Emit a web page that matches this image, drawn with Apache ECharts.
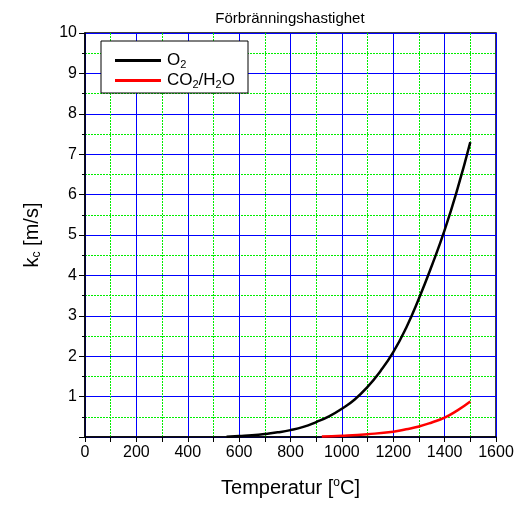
<!DOCTYPE html>
<html><head><meta charset="utf-8">
<script src="https://cdn.jsdelivr.net/npm/echarts@6/dist/echarts.min.js"></script>
<style>html,body{margin:0;padding:0;background:#fff}#c{width:520px;height:507px}</style>
</head><body><div id="c"></div>
<script>
var titleText = 'Förbränningshastighet';
var xTicks = [0, 200, 400, 600, 800, 1000, 1200, 1400, 1600];
var yTicks = [0, 1, 2, 3, 4, 5, 6, 7, 8, 9, 10];
var o2Temp = [551, 600, 650, 700, 750, 800, 850, 900, 950, 1000, 1050, 1100, 1150, 1200, 1250, 1300, 1350, 1400, 1450, 1500];
var o2Kc   = [0.005, 0.025, 0.045, 0.075, 0.115, 0.17, 0.25, 0.37, 0.51, 0.70, 0.93, 1.24, 1.63, 2.10, 2.70, 3.43, 4.24, 5.12, 6.14, 7.3];
var co2Temp = [922, 1000, 1100, 1200, 1250, 1300, 1350, 1400, 1450, 1500];
var co2Kc   = [0.01, 0.03, 0.07, 0.13, 0.19, 0.26, 0.36, 0.48, 0.66, 0.88];

function pairs(xs, ys){ return xs.map(function(x,i){return [x, ys[i]];}); }
var FONT = 'Liberation Sans, Arial, sans-serif';
var chart = echarts.init(document.getElementById('c'), null, {renderer:'canvas'});
chart.setOption({
  animation:false,
  textStyle:{fontFamily:FONT, color:'#000'},
  title:{text:titleText, left:285, top:6, textAlign:'center',
    textStyle:{fontFamily:FONT, fontSize:15, fontWeight:'normal', color:'#000'}},
  grid:{left:85, right:24, top:33, bottom:70, show:true, borderColor:'#000', borderWidth:1.5, backgroundColor:'transparent'},
  graphic:[{type:'rect', shape:{x:101, y:41, width:147, height:52}, style:{fill:'#fff', stroke:'#000', lineWidth:1}, z:10}],
  legend:{left:110, top:47, orient:'vertical', itemGap:2, itemWidth:46, itemHeight:3, icon:'rect',
    z:20, data:['O2','CO2/H2O'],
    formatter:function(n){ return n==='O2' ? '{n|O}{s|2}' : '{n|CO}{s|2}{n|/H}{s|2}{n|O}'; },
    textStyle:{fontFamily:FONT, fontSize:17, color:'#000', padding:[0,0,0,1],
      rich:{n:{fontFamily:FONT, fontSize:17, lineHeight:19, color:'#000'},
            s:{fontFamily:FONT, fontSize:11, lineHeight:11, verticalAlign:'bottom', color:'#000'}}}},
  xAxis:{type:'value', min:xTicks[0], max:xTicks[xTicks.length-1], interval:200,
    name:'{n|Temperatur [}{s|o}{n|C]}', nameLocation:'middle', nameGap:40,
    nameTextStyle:{rich:{n:{fontFamily:FONT, fontSize:20, lineHeight:22, color:'#000'},
                         s:{fontFamily:FONT, fontSize:12, lineHeight:12, verticalAlign:'top', color:'#000'}}},
    axisLine:{show:true, onZero:false, lineStyle:{color:'#000', width:1.5}},
    axisTick:{show:true, inside:false, length:5, lineStyle:{color:'#000'}},
    minorTick:{show:true, splitNumber:2, length:5, lineStyle:{color:'#000'}},
    axisLabel:{fontFamily:FONT, fontSize:16, color:'#000', margin:8,
      formatter:function(v){ return String(v); }},
    splitLine:{show:true, lineStyle:{color:'#0000ff', width:1}},
    minorSplitLine:{show:true, lineStyle:{color:'#00ee00', type:[2,1], width:1, opacity:1}}},
  yAxis:{type:'value', min:yTicks[0], max:yTicks[yTicks.length-1], interval:1,
    name:'{n|k}{s|c}{n| [m/s]}', nameLocation:'middle', nameGap:42, nameRotate:90,
    nameTextStyle:{rich:{n:{fontFamily:FONT, fontSize:20, lineHeight:22, color:'#000'},
                         s:{fontFamily:FONT, fontSize:12, lineHeight:12, verticalAlign:'bottom', color:'#000'}}},
    axisLine:{show:true, onZero:false, lineStyle:{color:'#000', width:1.5}},
    axisTick:{show:true, inside:false, length:6, lineStyle:{color:'#000'}},
    minorTick:{show:true, splitNumber:2, length:3, lineStyle:{color:'#000'}},
    axisLabel:{fontFamily:FONT, fontSize:16, color:'#000', margin:8,
      formatter:function(v){ return v===0 ? '' : String(v); }},
    splitLine:{show:true, lineStyle:{color:'#0000ff', width:1}},
    minorSplitLine:{show:true, lineStyle:{color:'#00ee00', type:[2,1], width:1, opacity:1}}},
  series:[
    {name:'O2', type:'line', data:pairs(o2Temp, o2Kc), smooth:0.5, showSymbol:false, symbol:'none',
      itemStyle:{color:'#000'}, lineStyle:{color:'#000', width:2.5}, z:5},
    {name:'CO2/H2O', type:'line', data:pairs(co2Temp, co2Kc), smooth:0.5, showSymbol:false, symbol:'none',
      itemStyle:{color:'#ff0000'}, lineStyle:{color:'#ff0000', width:2.5}, z:5}
  ]
});
</script></body></html>
